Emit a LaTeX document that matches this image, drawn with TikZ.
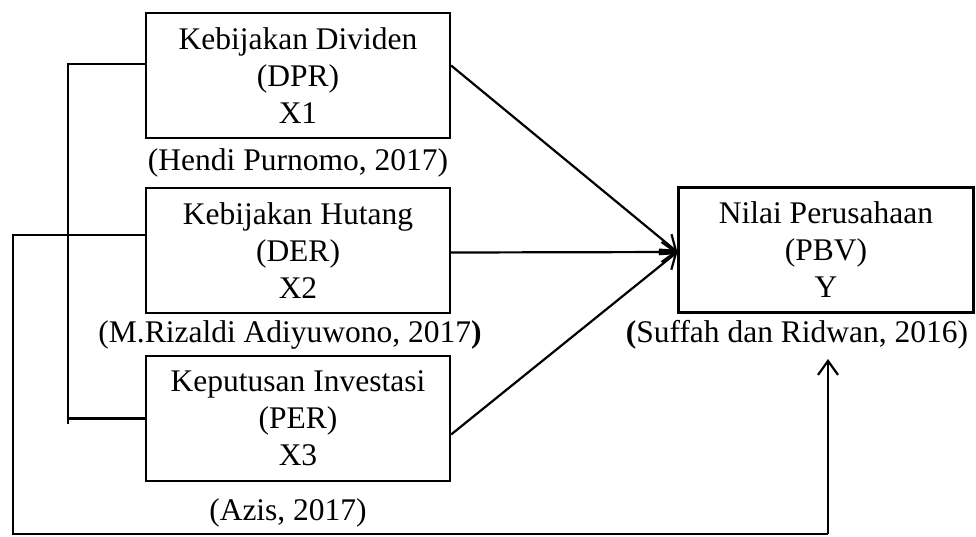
\documentclass[tikz,border=0pt]{standalone}
\usepackage{fontspec}
\setmainfont{Liberation Serif}
\usetikzlibrary{arrows.meta,calc}
\begin{document}
\begin{tikzpicture}[x=1pt,y=-1pt,
  every node/.style={font=\fontsize{31.5}{37}\selectfont, inner sep=0pt},
  box/.style={draw, line width=2.2pt, minimum width=304pt, minimum height=125pt, align=center},
  lbl/.style={align=center},
  conn/.style={line width=2.2pt},
  arr/.style={line width=2.2pt, -{Straight Barb[length=14pt,width=20pt,line width=2.2pt]}}]
\useasboundingbox (0,0) rectangle (976,536);
% boxes
\node[box] (b1) at (298,75.5) {Kebijakan Dividen\\(DPR)\\X1};
\node[box] (b2) at (298,250.5) {Kebijakan Hutang\\(DER)\\X2};
\node[box] (b3) at (298,418.5) {Keputusan Investasi\\(PER)\\X3};
\node[box, minimum width=295pt] (y) at (826,250) {Nilai Perusahaan\\(PBV)\\Y};
% labels
\node[lbl] (l1) at (298,163) {(Hendi Purnomo, 2017)};
\node[lbl] (l2) at (290,335) {(M.Rizaldi Adiyuwono, 2017\textbf{)}};
\node[lbl] (l3) at (797,335) {\textbf{(}Suffah dan Ridwan, 2016)};
\node[lbl] (l4) at (288,513) {(Azis, 2017)};
% arrows to Y
\coordinate (tgt) at ([yshift=-2pt]y.west);
\draw[arr] ([yshift=10pt]b1.east) -- (tgt);
\draw[arr] ([yshift=-2pt]b2.east) -- (tgt);
\draw[arr] ([yshift=-16pt]b3.east) -- (tgt);
% left bracket
\coordinate (k1) at (68,64);
\coordinate (k2) at (68,424);
\draw[conn] (b1.west |- k1) -- (k1) -- (k2);
\draw[conn] (b3.west) -- (b3.west -| k1);
% feedback line
\coordinate (f0) at (13,235);
\coordinate (f1) at (13,534);
\coordinate (yin) at (828,359);
\draw[conn] (b2.west |- f0) -- (f0) -- (f1) -- (f1 -| yin);
\draw[arr] (f1 -| yin) -- (yin);
\end{tikzpicture}
\end{document}
